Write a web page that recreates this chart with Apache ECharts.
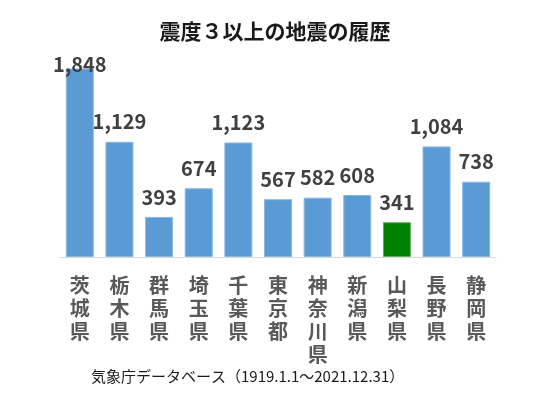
<!DOCTYPE html>
<html>
<head>
<meta charset="utf-8">
<script src="https://cdn.jsdelivr.net/npm/echarts@6/dist/echarts.min.js"></script>
<style>
  html, body { margin: 0; padding: 0; background: #fff; }
  #chart { width: 550px; height: 413px; }
</style>
</head>
<body>
<div id="chart"></div>
<script>
// prefectures and counts of intensity 3+ quakes
const prefectures = ['茨城県', '栃木県', '群馬県', '埼玉県', '千葉県', '東京都', '神奈川県', '新潟県', '山梨県', '長野県', '静岡県'];
const counts = [1848, 1129, 393, 674, 1123, 567, 582, 608, 341, 1084, 738];
const highlight = '山梨県';

const chart = echarts.init(document.getElementById('chart'));
const font = 'Noto Sans CJK JP';

const barData = counts.map(function (v, i) {
    const item = { value: v };
    if (prefectures[i] === highlight) {
        item.itemStyle = { color: '#008000', borderColor: '#5fb35f' };
    }
    // top bar label sits down on the bar, as in the original
    if (i === 0) {
        item.label = { distance: -6 };
    }
    return item;
});

chart.setOption({
    animation: false,
    title: {
        text: '震度３以上の地震の履歴',
        left: 'center',
        top: 16,
        textStyle: { fontFamily: font, fontSize: 21, fontWeight: 'bold', color: '#1a1a1a' }
    },
    grid: {
        left: 60,
        right: 54,
        top: 53,
        bottom: 156,
        containLabel: false
    },
    xAxis: {
        type: 'category',
        data: prefectures,
        axisLine: { lineStyle: { color: '#d9d9d9', width: 1 } },
        axisTick: { show: false },
        axisLabel: {
            interval: 0,
            margin: 17,
            fontFamily: font,
            fontSize: 20,
            fontWeight: 'bold',
            color: '#595959',
            lineHeight: 23,
            formatter: function (v) { return v.split('').join('\n'); }
        }
    },
    yAxis: {
        type: 'value',
        min: 0,
        max: 2000,
        show: false,
        splitLine: { show: false }
    },
    graphic: [{
        type: 'text',
        left: 91,
        top: 369,
        style: {
            text: '気象庁データベース（1919.1.1～2021.12.31）',
            fontFamily: font,
            fontSize: 15,
            fill: '#1a1a1a'
        }
    }],
    series: [{
        type: 'bar',
        data: barData,
        barWidth: 28,
        itemStyle: { color: '#5b9bd5', borderColor: '#8ab8e3', borderWidth: 1 },
        label: {
            show: true,
            position: 'top',
            distance: 10,
            fontFamily: font,
            fontSize: 20,
            fontWeight: 'bold',
            color: '#404040',
            formatter: function (p) { return p.value.toLocaleString('en-US'); }
        }
    }]
});
</script>
</body>
</html>
